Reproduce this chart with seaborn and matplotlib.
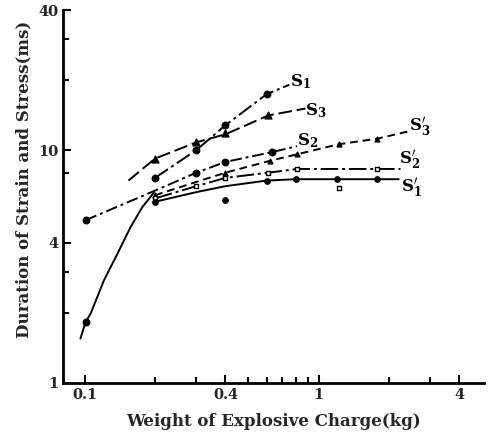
import numpy as np
import pandas as pd
import matplotlib
matplotlib.use("Agg")
import matplotlib.pyplot as plt
import seaborn as sns
from matplotlib.ticker import FixedLocator, NullFormatter, FixedFormatter

# ---- data ----
# curves (line paths)
s1_line_x = [0.2, 0.3, 0.4, 0.6, 0.75]
s1_line_y = [7.6, 10.0, 12.8, 17.4, 19.1]
s1_low_x = [0.096, 0.101, 0.106, 0.121, 0.138, 0.157, 0.176, 0.198]
s1_low_y = [1.55, 1.83, 1.98, 2.76, 3.58, 4.66, 5.67, 6.58]
s3_line_x = [0.154, 0.2, 0.3, 0.4, 0.61, 0.88]
s3_line_y = [7.4, 9.2, 10.8, 11.7, 14.1, 15.1]
s2_line_x = [0.101, 0.2, 0.3, 0.4, 0.63, 0.81]
s2_line_y = [5.0, 6.7, 8.0, 8.9, 9.8, 10.4]
s3p_line_x = [0.2, 0.3, 0.4, 0.62, 0.81, 1.22, 1.78, 2.47]
s3p_line_y = [6.4, 7.3, 8.0, 9.0, 9.6, 10.6, 11.2, 12.1]
s2p_line_x = [0.2, 0.3, 0.4, 0.61, 0.81, 1.78, 2.24]
s2p_line_y = [6.2, 7.0, 7.6, 8.0, 8.3, 8.3, 8.3]
s1p_line_x = [0.2, 0.3, 0.4, 0.6, 0.8, 1.2, 1.78, 2.2]
s1p_line_y = [6.0, 6.6, 7.0, 7.4, 7.5, 7.5, 7.5, 7.5]

# measured points (markers)
s1_pts_x = [0.101, 0.2, 0.3, 0.4, 0.6]
s1_pts_y = [1.83, 7.6, 10.0, 12.8, 17.4]
s3_pts_x = [0.2, 0.3, 0.4, 0.61]
s3_pts_y = [9.2, 10.8, 11.9, 14.1]
s2_pts_x = [0.101, 0.3, 0.4, 0.63]
s2_pts_y = [5.0, 8.0, 8.9, 9.8]
s3p_pts_x = [0.2, 0.4, 0.62, 0.81, 1.22, 1.78]
s3p_pts_y = [6.4, 8.0, 9.0, 9.6, 10.6, 11.2]
s2p_pts_x = [0.2, 0.3, 0.4, 0.61, 0.81, 1.78, 1.22]
s2p_pts_y = [6.2, 7.0, 7.6, 8.0, 8.3, 8.3, 6.9]
s1p_pts_x = [0.2, 0.4, 0.6, 0.8, 1.2, 1.78]
s1p_pts_y = [6.0, 6.1, 7.4, 7.5, 7.5, 7.5]

labels = ["$\\mathbf{S_1}$", "$\\mathbf{S_3}$", "$\\mathbf{S_2}$",
          "$\\mathbf{S_3'}$", "$\\mathbf{S_2'}$", "$\\mathbf{S_1'}$"]
label_x = [0.84, 0.97, 0.90, 2.70, 2.45, 2.50]
label_y = [19.6, 14.8, 11.0, 12.6, 9.1, 6.9]

x_ticks = [0.1, 0.4, 1, 4]
x_ticklabels = ["0.1", "0.4", "1", "4"]
y_ticks = [1, 4, 10, 40]
y_ticklabels = ["1", "4", "10", "40"]

# ---- plot ----
sns.set_style("ticks")
plt.rcParams["mathtext.fontset"] = "dejavuserif"
serif = ["DejaVu Serif"]

fig = plt.figure(figsize=(4.9, 4.37), dpi=100)
ax = fig.add_axes([0.129, 0.124, 0.859, 0.853])

lw = 1.4
styles = [
    (s1_line_x, s1_line_y, (0, (8, 2, 1.5, 2))),
    (s1_low_x, s1_low_y, "-"),
    (s3_line_x, s3_line_y, (0, (7, 2.5))),
    (s2_line_x, s2_line_y, (0, (6, 2, 1.5, 2))),
    (s3p_line_x, s3p_line_y, (0, (4, 2.5))),
    (s2p_line_x, s2p_line_y, (0, (9, 2, 1.5, 2))),
    (s1p_line_x, s1p_line_y, "-"),
]
for lx, ly, ls in styles:
    sns.lineplot(x=lx, y=ly, ax=ax, color="black", linewidth=lw,
                 linestyle=ls, sort=False, estimator=None)

mk = [
    (s1_pts_x, s1_pts_y, "o", "black", 22),
    (s3_pts_x, s3_pts_y, "^", "black", 24),
    (s2_pts_x, s2_pts_y, "o", "black", 22),
    (s3p_pts_x, s3p_pts_y, "^", "black", 12),
    (s2p_pts_x, s2p_pts_y, "s", "white", 12),
    (s1p_pts_x, s1p_pts_y, "o", "black", 15),
]
for px, py, m, fc, s in mk:
    sns.scatterplot(x=px, y=py, ax=ax, marker=m, s=s, color=fc,
                    edgecolor="black", linewidth=1.0, zorder=5)

for t, tx, ty in zip(labels, label_x, label_y):
    ax.text(tx, ty, t, ha="center", va="center", fontsize=12, color="black")

ax.set_xscale("log")
ax.set_yscale("log")
ax.set_xlim(0.081, 5.1)
ax.set_ylim(1, 40)

ax.xaxis.set_major_locator(FixedLocator(x_ticks))
ax.xaxis.set_major_formatter(FixedFormatter(x_ticklabels))
ax.xaxis.set_minor_locator(FixedLocator([0.2, 0.3, 0.5, 0.6, 0.7, 0.8, 0.9, 2, 3]))
ax.xaxis.set_minor_formatter(NullFormatter())
ax.yaxis.set_major_locator(FixedLocator(y_ticks))
ax.yaxis.set_major_formatter(FixedFormatter(y_ticklabels))
ax.yaxis.set_minor_locator(FixedLocator([2, 3, 8, 20, 30]))
ax.yaxis.set_minor_formatter(NullFormatter())

ax.tick_params(which="both", direction="in", width=1.5, color="black")
ax.tick_params(which="major", length=6, labelsize=10.5)
ax.tick_params(which="minor", length=4)
for lab in ax.get_xticklabels() + ax.get_yticklabels():
    lab.set_fontfamily(serif)
    lab.set_fontweight("bold")

sns.despine(ax=ax)
for sp in ["left", "bottom"]:
    ax.spines[sp].set_linewidth(2.0)
    ax.spines[sp].set_color("black")

ax.set_xlabel("Weight of Explosive Charge(kg)", fontsize=12, fontweight="bold",
              fontfamily=serif)
ax.set_ylabel("Duration of Strain and Stress(ms)", fontsize=12, fontweight="bold",
              fontfamily=serif)
ax.xaxis.set_label_coords(0.5, -0.08)
ax.yaxis.set_label_coords(-0.074, 0.545)

fig.savefig("out.png", dpi=100, facecolor="white")
